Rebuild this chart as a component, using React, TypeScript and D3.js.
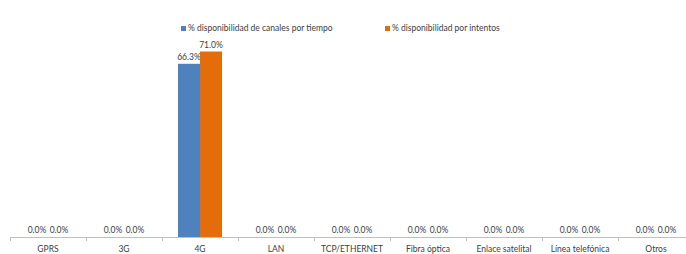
import * as d3 from "d3";

const categories = ["GPRS", "3G", "4G", "LAN", "TCP/ETHERNET", "Fibra óptica", "Enlace satelital", "Línea telefónica", "Otros"];
const seriesNames = ["% disponibilidad de canales por tiempo", "% disponibilidad por intentos"];
const porTiempo = [0, 0, 66.3, 0, 0, 0, 0, 0, 0];
const porIntentos = [0, 0, 71.0, 0, 0, 0, 0, 0, 0];
const colors = ["#4f81bd", "#e46c0a"];

const W = 686;
const H = 254;
const FONT = "Lato, 'Open Sans', sans-serif";

export default function App() {
  const series = [porTiempo, porIntentos];
  const x = d3.scaleBand<string>().domain(categories).range([10, 10 + 76 * categories.length]);
  const inner = d3.scaleBand<number>().domain([0, 1]).range([0, 44]);
  const y = d3.scaleLinear().domain([0, 80]).range([237, 28]);
  const fmt = (v: number) => `${v.toFixed(1)}%`;
  const legendX = [181, 385];

  return (
    <svg width={W} height={H} style={{ position: "fixed", left: 0, top: 0, background: "#fff" }} fontFamily={FONT}>
      {/* legend */}
      {seriesNames.map((n, i) => (
        <g key={n} transform={`translate(${legendX[i]},26)`}>
          <rect width={5} height={5} fill={colors[i]} />
          <text x={7} y={5} fontSize={8.5} fill="#404040">{n}</text>
        </g>
      ))}

      {/* bars + labels */}
      {categories.map((c) => {
        const ci = categories.indexOf(c);
        const x0 = (x(c) ?? 0) + (x.bandwidth() - 44) / 2;
        return (
          <g key={c}>
            {series.map((s, si) => {
              const v = s[ci];
              const bx = x0 + (inner(si) ?? 0);
              return (
                <g key={si}>
                  <rect x={bx} y={y(v)} width={inner.bandwidth()} height={y(0) - y(v)} fill={colors[si]} />
                  <text x={bx + inner.bandwidth() / 2} y={y(v) - 4} textAnchor="middle" fontSize={8.5} fill="#404040">
                    {fmt(v)}
                  </text>
                </g>
              );
            })}
          </g>
        );
      })}

      {/* axis */}
      <line x1={10} x2={W} y1={237.5} y2={237.5} stroke="#bfbfbf" />
      {categories.map((c) => (
        <line key={c} x1={(x(c) ?? 0) + 0.5} x2={(x(c) ?? 0) + 0.5} y1={237.5} y2={241} stroke="#bfbfbf" />
      ))}
      {categories.map((c) => (
        <text key={c} x={(x(c) ?? 0) + x.bandwidth() / 2} y={252} textAnchor="middle" fontSize={8.5} fill="#404040">
          {c}
        </text>
      ))}
    </svg>
  );
}
